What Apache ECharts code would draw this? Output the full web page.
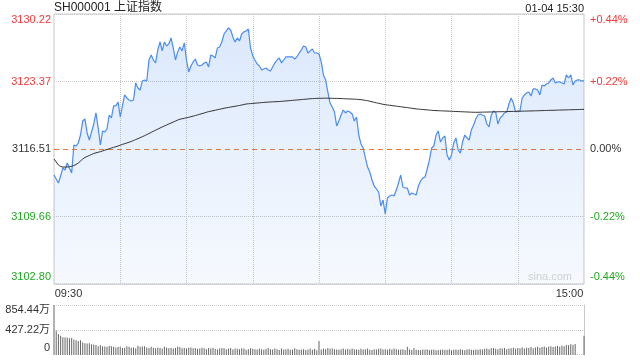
<!DOCTYPE html>
<html><head><meta charset="utf-8">
<script src="https://cdn.jsdelivr.net/npm/echarts@6/dist/echarts.min.js"></script>
<style>html,body{margin:0;padding:0;background:#fff}#c{width:640px;height:360px}</style>
</head><body><div id="c"></div>
<script>
const chartTitle = 'SH000001 上证指数';
const dateTime = '01-04 15:30';
const watermark = 'sina.com';
const prevClose = 3116.51;
const priceTickLabels = ['3102.80', '3109.66', '3116.51', '3123.37', '3130.22'];
const pctTickLabels = ['-0.44%', '-0.22%', '0.00%', '+0.22%', '+0.44%'];
const volTickLabels = ['0', '427.22万', '854.44万'];
const volMax = 854.44;

const prices = [
3113.87,3113.46,3113.06,3113.77,3114.58,3114.38,3115.09,3114.58,3114.07,3116.92,
3116.81,3117.12,3117.93,3119.35,3119.56,3118.14,3117.42,3118.24,3119.05,3120.17,
3118.64,3116.92,3118.34,3118.24,3118.54,3119.96,3119.66,3120.88,3120.88,3121.29,
3119.76,3120.88,3122.00,3121.69,3121.49,3121.39,3121.49,3123.22,3122.71,3122.50,
3123.42,3123.52,3123.42,3125.55,3126.06,3125.55,3125.25,3126.57,3127.38,3126.47,
3127.38,3126.97,3127.18,3127.79,3126.77,3125.55,3126.37,3126.87,3126.47,3127.28,
3125.55,3124.33,3124.94,3125.35,3125.65,3125.04,3124.94,3125.04,3125.25,3125.35,
3124.84,3126.06,3125.96,3125.76,3126.77,3126.87,3127.38,3128.19,3128.50,3128.80,
3128.60,3127.89,3127.38,3127.79,3127.48,3128.19,3128.40,3128.50,3128.70,3126.77,
3125.96,3125.55,3125.15,3124.94,3124.54,3124.64,3124.74,3124.54,3124.43,3124.84,
3125.25,3125.55,3125.76,3125.25,3125.55,3125.86,3125.86,3125.86,3125.86,3125.65,
3125.86,3126.26,3126.57,3126.97,3126.87,3126.26,3126.47,3126.67,3126.26,3126.26,
3126.16,3125.35,3124.03,3123.52,3122.30,3121.18,3120.78,3120.27,3118.85,3119.35,
3119.96,3120.47,3120.17,3120.37,3120.27,3120.07,3119.35,3119.76,3117.93,3117.02,
3116.61,3115.60,3114.68,3114.17,3113.36,3112.75,3112.45,3112.14,3110.72,3111.33,
3109.91,3111.53,3111.73,3111.84,3111.73,3112.34,3113.06,3113.87,3112.65,3112.55,
3112.55,3111.84,3112.04,3111.94,3111.84,3112.75,3113.26,3113.56,3113.67,3114.48,
3115.39,3116.61,3116.81,3117.93,3118.34,3117.22,3117.63,3117.83,3115.90,3115.39,
3115.90,3117.12,3117.63,3116.41,3116.10,3117.22,3117.93,3117.63,3117.42,3118.44,
3118.95,3119.56,3119.96,3120.07,3119.96,3119.86,3119.05,3118.75,3119.96,3120.37,
3120.27,3119.05,3119.66,3119.86,3120.17,3120.27,3121.08,3121.69,3121.18,3120.27,
3120.37,3120.37,3121.69,3122.00,3122.20,3122.30,3121.89,3122.61,3122.61,3122.50,
3122.00,3123.01,3122.91,3123.11,3123.22,3123.52,3123.72,3123.22,3123.32,3123.32,
3123.22,3123.11,3124.03,3123.72,3124.03,3123.01,3123.42,3123.52,3123.52,3123.42,
3123.42
];

const avgPrices = [
3115.49,3115.19,3114.88,3114.73,3114.68,3114.68,3114.68,3114.71,3114.75,3114.83,
3114.94,3115.09,3115.29,3115.49,3115.65,3115.75,3115.85,3115.95,3116.05,3116.12,
3116.18,3116.24,3116.31,3116.39,3116.46,3116.53,3116.61,3116.68,3116.74,3116.81,
3116.90,3116.98,3117.05,3117.12,3117.20,3117.28,3117.37,3117.47,3117.56,3117.66,
3117.76,3117.86,3117.97,3118.08,3118.20,3118.31,3118.42,3118.53,3118.64,3118.75,
3118.85,3118.95,3119.05,3119.15,3119.25,3119.35,3119.45,3119.53,3119.58,3119.63,
3119.68,3119.73,3119.79,3119.85,3119.91,3119.97,3120.04,3120.10,3120.17,3120.24,
3120.30,3120.35,3120.40,3120.45,3120.50,3120.55,3120.59,3120.65,3120.69,3120.73,
3120.77,3120.81,3120.85,3120.89,3120.93,3120.98,3121.03,3121.08,3121.10,3121.12,
3121.14,3121.16,3121.18,3121.20,3121.22,3121.24,3121.26,3121.27,3121.29,3121.30,
3121.31,3121.32,3121.33,3121.35,3121.37,3121.39,3121.41,3121.43,3121.45,3121.47,
3121.49,3121.51,3121.53,3121.55,3121.57,3121.59,3121.61,3121.63,3121.64,3121.65,
3121.66,3121.66,3121.67,3121.67,3121.67,3121.66,3121.66,3121.65,3121.65,3121.64,
3121.63,3121.62,3121.61,3121.60,3121.59,3121.58,3121.57,3121.56,3121.54,3121.52,
3121.49,3121.45,3121.41,3121.36,3121.31,3121.25,3121.20,3121.15,3121.10,3121.05,
3121.01,3120.98,3120.95,3120.92,3120.89,3120.86,3120.83,3120.80,3120.77,3120.74,
3120.71,3120.68,3120.65,3120.61,3120.58,3120.56,3120.54,3120.52,3120.50,3120.48,
3120.46,3120.44,3120.42,3120.41,3120.40,3120.39,3120.38,3120.37,3120.36,3120.35,
3120.34,3120.33,3120.32,3120.31,3120.30,3120.29,3120.28,3120.27,3120.26,3120.25,
3120.24,3120.24,3120.24,3120.25,3120.25,3120.26,3120.26,3120.27,3120.27,3120.28,
3120.28,3120.29,3120.29,3120.30,3120.30,3120.31,3120.32,3120.32,3120.33,3120.33,
3120.34,3120.35,3120.35,3120.36,3120.36,3120.37,3120.38,3120.38,3120.39,3120.39,
3120.40,3120.41,3120.42,3120.42,3120.43,3120.44,3120.44,3120.45,3120.46,3120.46,
3120.47,3120.48,3120.48,3120.49,3120.50,3120.50,3120.51,3120.52,3120.52,3120.53,
3120.54
];

const volumes = [
854.44,415,360,330,305,300,300,285,290,265,
250,240,250,215,200,195,200,185,180,170,
150,165,150,145,140,160,150,140,130,135,
145,120,125,150,140,125,130,115,160,140,
145,150,130,120,140,125,115,130,120,110,
140,130,115,125,110,120,140,135,115,120,
110,125,130,115,120,105,110,125,115,100,
120,110,125,105,95,110,120,115,100,110,
120,95,110,105,100,115,110,90,100,115,
105,100,95,110,100,90,105,120,100,95,
110,100,85,110,95,100,105,90,95,115,
100,90,95,100,85,95,110,90,105,80,
240,95,110,100,120,105,110,100,95,90,
100,110,95,105,95,110,100,95,90,105,
95,100,110,90,85,100,95,105,110,95,
100,90,105,95,110,100,90,95,100,85,
140,95,85,120,90,85,80,95,90,100,
85,90,95,80,85,90,95,85,90,100,
80,90,95,85,100,90,80,95,100,90,
85,95,90,100,95,105,110,100,115,120,
105,100,115,110,120,100,110,115,125,105,
120,115,130,110,125,120,135,115,130,140,
125,135,145,130,140,150,135,145,155,140,
160,150,170,165,185,175,190,8,6,10,
330
];

function hm(t) { const h = Math.floor(t / 60), m = t % 60; return (h < 10 ? '0' : '') + h + ':' + (m < 10 ? '0' : '') + m; }
const times = [];
for (let m = 0; m <= 120; m++) times.push(hm(9 * 60 + 30 + m));
for (let m = 1; m <= 120; m++) times.push(hm(13 * 60 + m));

const FONT = "'Liberation Sans', Arial, 'Noto Sans CJK SC', sans-serif";
const RED = '#f03c3c', GREEN = '#22a822', DARK = '#333', BLUE = '#4a8cf0', GRID = '#c8c8c8', ORANGE = '#ee7733';
const base = { fontSize: 11, fontFamily: FONT };
const priceMin = parseFloat(priceTickLabels[0]);
const priceMax = parseFloat(priceTickLabels[priceTickLabels.length - 1]);

const chart = echarts.init(document.getElementById('c'));
const priceRich = {
  upT: Object.assign({ color: RED, padding: [12, 0, 0, 0] }, base),
  up: Object.assign({ color: RED }, base),
  eq: Object.assign({ color: DARK }, base),
  dn: Object.assign({ color: GREEN }, base),
  dnB: Object.assign({ color: GREEN, padding: [0, 0, 14, 0] }, base)
};
const keys = ['dnB', 'dn', 'eq', 'up', 'upT'];

chart.setOption({
  animation: false,
  backgroundColor: '#fff',
  title: [
    { text: chartTitle, left: 54, top: 2, padding: 0, textStyle: { fontSize: 12, fontWeight: 'normal', color: '#222', fontFamily: FONT } },
    { text: dateTime, right: 56, top: 3, padding: 0, textStyle: { fontSize: 11, fontWeight: 'normal', color: '#222', fontFamily: FONT } },
    { text: watermark, right: 68, top: 271, padding: 0, textStyle: { fontSize: 11, fontWeight: 'normal', color: '#cfcfcf', fontFamily: FONT } }
  ],
  grid: [
    { left: 54, right: 56, top: 14, height: 270, show: true, borderColor: GRID, borderWidth: 1, backgroundColor: 'transparent' },
    { left: 54, right: 56, top: 305, height: 50 }
  ],
  xAxis: [
    {
      type: 'category', gridIndex: 0, data: times, boundaryGap: false,
      axisLine: { show: false }, axisTick: { show: false },
      axisLabel: {
        interval: function (i) { return i === 0 || i === times.length - 1; },
        margin: 4, color: DARK, fontSize: 11, fontFamily: FONT,
        formatter: function (v, i) { return i === 0 ? '{l|' + v + '}' : '{r|' + v + '}'; },
        rich: {
          l: Object.assign({ color: DARK, padding: [0, 0, 0, 29] }, base),
          r: Object.assign({ color: DARK, padding: [0, 29, 0, 0] }, base)
        }
      },
      splitLine: {
        show: true,
        interval: function (i) { return i > 0 && i < times.length - 1 && i % 30 === 0; },
        lineStyle: { color: GRID, type: 'dotted', width: 1 }
      }
    },
    { type: 'category', gridIndex: 1, data: times, boundaryGap: false, show: false }
  ],
  yAxis: [
    { type: 'value', gridIndex: 0, show: false, min: priceMin, max: priceMax, splitLine: { show: false } },
    {
      type: 'value', gridIndex: 0, position: 'left', min: 0, max: 4, interval: 1,
      axisLine: { show: false }, axisTick: { show: false },
      axisLabel: { margin: 3, formatter: function (v) { const i = Math.round(v); return '{' + keys[i] + '|' + priceTickLabels[i] + '}'; }, rich: priceRich },
      splitLine: { show: true, lineStyle: { color: [GRID, GRID, 'rgba(0,0,0,0)', GRID, GRID], type: 'dotted', width: 1 } }
    },
    {
      type: 'value', gridIndex: 0, position: 'right', min: 0, max: 4, interval: 1,
      axisLine: { show: false }, axisTick: { show: false },
      axisLabel: { margin: 6, formatter: function (v) { const i = Math.round(v); return '{' + keys[i] + '|' + pctTickLabels[i] + '}'; }, rich: priceRich },
      splitLine: { show: false }
    },
    { type: 'value', gridIndex: 1, show: false, min: 0, max: volMax, splitLine: { show: false } },
    {
      type: 'value', gridIndex: 1, position: 'left', min: 0, max: 2, interval: 1,
      axisLine: { show: false }, axisTick: { show: false },
      axisLabel: {
        margin: 4,
        formatter: function (v) { const i = Math.round(v); return '{' + ['vB', 'v', 'vT'][i] + '|' + volTickLabels[i] + '}'; },
        rich: {
          vB: Object.assign({ color: DARK, padding: [0, 0, 14, 0] }, base),
          v: Object.assign({ color: DARK }, base),
          vT: Object.assign({ color: DARK, padding: [10, 0, 0, 0] }, base)
        }
      },
      splitLine: { show: true, lineStyle: { color: ['rgba(0,0,0,0)', GRID, GRID], type: 'dotted', width: 1 } }
    },
    {
      type: 'value', gridIndex: 1, position: 'right', min: 0, max: 2, interval: 1,
      axisLine: { show: true, lineStyle: { color: GRID, width: 1 } }, axisTick: { show: false },
      axisLabel: { show: false }, splitLine: { show: false }
    },
    {
      // previous-close reference line: inner split line of an axis whose middle tick sits at prevClose
      type: 'value', gridIndex: 0, position: 'left', min: 0, max: 2, interval: 1,
      axisLine: { show: false }, axisTick: { show: false }, axisLabel: { show: false },
      splitLine: { show: true, showMinLine: false, showMaxLine: false, lineStyle: { color: ORANGE, type: [5, 4], width: 1, opacity: 1 } }
    }
  ],
  series: [
    {
      type: 'line', name: 'price', xAxisIndex: 0, yAxisIndex: 0, data: prices,
      symbol: 'none', z: 3,
      lineStyle: { color: BLUE, width: 1.2 },
      areaStyle: {
        origin: 'start',
        color: new echarts.graphic.LinearGradient(0, 0, 0, 1, [
          { offset: 0, color: 'rgba(74,140,240,0.28)' },
          { offset: 1, color: 'rgba(74,140,240,0.07)' }
        ])
      }
    },
    {
      type: 'line', name: 'avg', xAxisIndex: 0, yAxisIndex: 0, data: avgPrices,
      symbol: 'none', z: 4, lineStyle: { color: '#333', width: 1 }
    },
    {
      type: 'bar', name: 'vol', xAxisIndex: 1, yAxisIndex: 3, data: volumes,
      barWidth: 1, itemStyle: { color: '#666' }
    }
  ]
});
</script></body></html>
